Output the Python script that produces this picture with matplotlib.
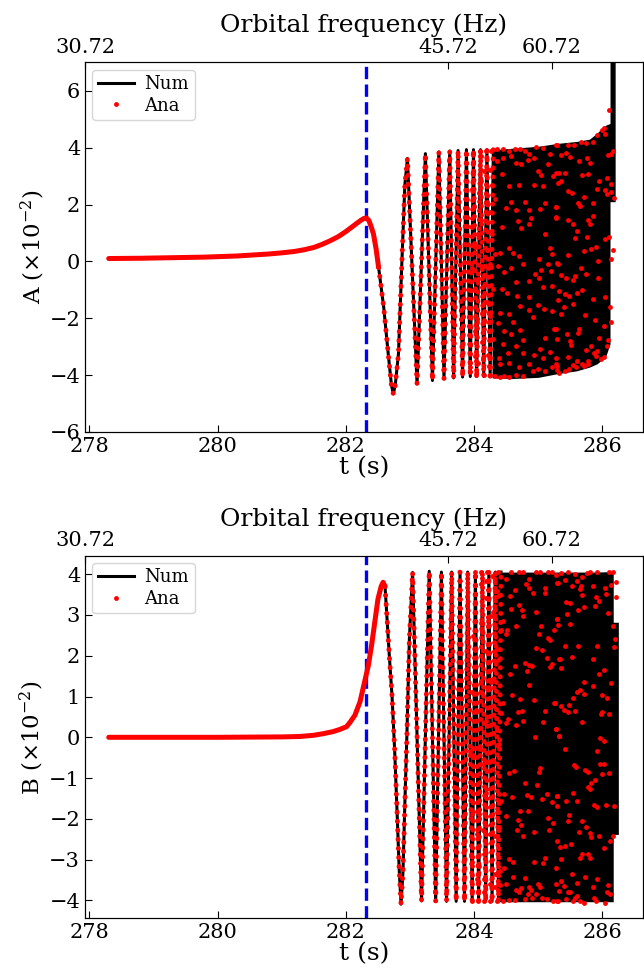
import matplotlib
matplotlib.use("Agg")
import matplotlib.pyplot as plt

plt.rcParams['font.family'] = 'DejaVu Serif'
plt.rcParams['mathtext.fontset'] = 'dejavuserif'

# ---- shared axis info ----
t_lim = (277.93, 286.63)
t_ticks = [278, 280, 282, 284, 286]
t_merger = 282.31
freq_labels = ['30.72', '45.72', '60.72']
freq_tick_t = [277.93, 283.60, 285.21]

# ---- panel A ----
a_smooth_t = [278.3, 278.8, 279.3, 279.8, 280.3, 280.8, 281.0, 281.2, 281.35, 281.5, 281.62, 281.75,
              281.88, 282.0, 282.1, 282.17, 282.23, 282.28, 282.32, 282.36, 282.40, 282.43, 282.47, 282.51]
a_smooth_v = [0.10, 0.11, 0.13, 0.15, 0.19, 0.26, 0.30, 0.35, 0.41, 0.49, 0.59, 0.72,
              0.87, 1.05, 1.22, 1.34, 1.44, 1.51, 1.53, 1.43, 1.18, 0.96, 0.45, -0.21]
a_osc_t = [282.51, 282.59, 282.66, 282.71, 282.74, 282.77, 282.82, 282.87, 282.92, 282.96, 283.11, 283.24,
           283.35, 283.45, 283.53, 283.62, 283.68, 283.75, 283.82, 283.88, 283.94, 283.99,
           284.04, 284.10, 284.15, 284.20, 284.25, 284.30]
a_osc_v = [-0.21, -1.62, -3.25, -4.35, -4.66, -4.35, -3.25, -0.21, 2.71, 3.62, -4.31, 3.79,
           -4.19, 3.85, -4.13, 3.88, -4.10, 3.90, -4.07, 3.93, -4.05, 3.93,
           -4.05, 3.93, -4.05, 3.93, -4.05, 3.93]
a_env_t = [284.28, 284.6, 285.0, 285.3, 285.6, 285.8, 285.92, 286.0, 286.06, 286.12, 286.12, 286.2]
a_env_hi = [3.93, 3.98, 4.05, 4.15, 4.22, 4.30, 4.52, 4.70, 4.80, 4.85, 8.0, 8.0]
a_env_lo = [-4.10, -4.12, -4.08, -3.95, -3.85, -3.72, -3.60, -3.45, -3.30, -2.90, 2.1, 2.1]
a_dot_t = [
    283.98, 284.09, 284.18, 284.27, 284.36, 284.45, 284.55, 284.63, 284.71, 284.79, 284.86, 284.97, 285.07, 285.18, 285.29,
    283.98, 284.11, 284.35, 284.45, 284.58, 284.66, 284.73, 284.84, 284.94, 285.15, 285.28,
    283.99, 284.16, 284.25, 284.44, 284.99, 285.05, 285.23,
    284.10, 284.28, 284.55, 284.70, 284.94, 285.07, 285.31,
    283.97, 284.08, 284.33, 284.20, 284.58, 284.79, 285.10,
    284.00, 284.25, 284.49, 284.65, 284.86, 285.03, 285.27,
    284.11, 284.44, 284.68, 284.73, 284.85, 284.89, 285.28, 283.97, 284.06, 284.28, 285.11,
    284.01, 284.20, 284.33, 284.41, 284.54, 284.60, 284.70, 285.01, 285.18, 285.22, 285.31,
    283.96, 284.11, 284.24, 284.37, 284.47, 284.58, 284.76, 284.95, 285.05, 285.15, 285.20,
    284.06, 284.15, 284.65, 284.86, 285.01, 285.08, 285.22, 285.32, 284.02, 284.29, 284.44, 284.51, 284.67, 284.86,
    283.94, 284.20, 284.72, 284.85, 284.99, 285.09,
    284.12, 284.24, 284.41, 284.54, 284.92, 285.22, 284.05, 284.15, 284.37, 284.60,
    284.02, 284.47, 284.71, 285.25, 284.29, 284.58, 284.76, 285.11,
    283.94, 284.13, 284.45, 284.66, 285.02, 285.18,
    284.02, 284.14, 284.22, 284.39, 284.53, 284.76, 284.93, 285.08, 285.27,
    283.94, 284.06, 284.23, 284.40, 284.54, 284.70, 284.85, 284.99, 285.22,
    284.03, 284.15, 284.25, 284.32, 284.40, 284.47, 284.55, 284.66, 284.76, 284.92, 285.11, 285.29,
    285.28, 285.35, 285.46, 285.56, 285.67, 285.74, 285.86, 285.92, 285.99, 286.03, 286.04, 286.11,
    285.43, 285.50, 285.64, 285.76, 285.81, 286.09, 286.16, 286.14,
    285.33, 285.41, 285.36, 285.69, 285.78, 285.95, 286.08, 286.13,
    285.46, 285.52, 285.91, 286.04, 286.08, 286.14, 286.18,
    285.71, 285.62, 285.65, 285.86, 285.28,
    285.46, 285.55, 285.78, 285.81, 285.86, 285.28,
    285.60, 285.57, 285.76, 286.04, 286.11,
    285.47, 285.72, 285.82, 285.90, 285.94, 286.17, 286.14,
    285.30, 285.67, 285.36, 285.43, 285.57, 285.74, 285.55, 285.94,
    285.68, 285.60, 285.42, 285.48, 285.85, 286.04, 285.31, 285.54,
    285.40, 285.36, 286.12, 285.73, 285.88, 286.13, 286.03,
    285.28, 285.64, 285.62, 285.45, 285.50, 285.29, 285.51, 285.95, 286.09, 286.07,
    285.82, 285.74, 285.87, 285.92, 285.90, 286.02, 285.98, 285.46, 285.28,
    285.61, 285.68, 285.77, 285.78, 285.54, 285.59, 285.30, 285.41, 285.33, 285.48, 285.71,
]
a_dot_v = [
    3.82, 3.90, 3.90, 3.90, 3.94, 3.97, 3.90, 3.94, 3.97, 3.88, 3.76, 4.02, 3.99, 3.76, 4.09,
    3.47, 3.70, 3.53, 3.64, 3.70, 3.47, 3.41, 3.58, 3.64, 3.41, 3.12,
    3.09, 3.17, 3.20, 3.06, 3.17, 3.03, 3.00,
    2.82, 2.68, 2.65, 2.68, 2.67, 2.65, 2.77,
    2.53, 2.41, 2.18, 2.10, 2.10, 2.09, 2.06,
    1.95, 1.75, 1.89, 1.82, 1.81, 1.83, 1.91,
    1.46, 1.21, 1.42, 1.19, 1.30, 1.51, 1.54, 1.23, 0.98, 0.98, 0.98,
    0.51, 0.40, 0.27, 0.29, 0.48, 0.30, 0.18, 0.09, 0.46, 0.25, -0.08,
    -0.22, -0.18, -0.10, -0.18, -0.36, -0.25, -0.10, -0.45, -0.31, -0.10, -0.34,
    -0.63, -0.49, -0.73, -0.70, -0.57, -0.90, -0.86, -1.04, -1.01, -0.96, -0.98, -1.10, -1.21, -1.25,
    -1.65, -1.42, -1.56, -1.70, -1.54, -1.68,
    -1.83, -1.91, -1.82, -1.86, -1.97, -1.76, -2.14, -2.14, -2.16, -2.15,
    -2.44, -2.46, -2.42, -2.37, -2.72, -2.56, -2.75, -2.68,
    -2.89, -2.83, -2.91, -2.99, -3.08, -3.18,
    -3.32, -3.40, -3.28, -3.41, -3.22, -3.22, -3.28, -3.40, -3.61,
    -3.70, -3.59, -3.67, -3.61, -3.56, -3.73, -3.61, -3.79, -3.73,
    -3.99, -3.99, -3.99, -4.04, -4.06, -4.02, -4.06, -4.01, -4.03, -3.87, -3.85, -3.82,
    4.11, 3.74, 4.11, 4.11, 4.21, 4.17, 4.21, 4.44, 4.61, 4.68, 4.49, 5.31,
    3.82, 3.67, 3.53, 3.62, 3.47, 3.74, 3.90, 3.76,
    3.12, 3.12, 2.83, 3.04, 3.08, 2.83, 2.92, 2.71,
    2.48, 2.42, 2.53, 2.50, 2.36, 2.45, 2.24,
    2.27, 2.07, 1.95, 2.04, 1.91,
    1.46, 1.30, 1.46, 1.33, 1.60, 1.56,
    1.07, 0.81, 0.86, 0.80, 0.84,
    0.23, 0.37, 0.43, 0.51, 0.02, 0.39, 0.10,
    -0.07, -0.22, -0.47, -0.57, -0.51, -0.45, -0.66, -0.60,
    -1.00, -1.12, -1.15, -1.23, -1.33, -1.24, -1.36, -1.50,
    -1.62, -1.85, -1.60, -1.89, -2.05, -2.15, -2.26,
    -2.38, -2.38, -2.53, -2.55, -2.79, -2.73, -2.93, -2.70, -2.76, -2.99,
    -2.96, -3.12, -3.23, -3.16, -3.32, -3.35, -3.43, -3.35, -3.40,
    -3.52, -3.61, -3.61, -3.49, -3.63, -3.73, -3.67, -3.84, -3.94, -3.78, -3.67,
]

# ---- panel B ----
b_smooth_t = [278.3, 279.0, 280.0, 281.0, 281.28, 281.5, 281.65, 281.8, 281.9, 282.01, 282.07, 282.14,
              282.22, 282.28, 282.35, 282.40, 282.45, 282.50, 282.55, 282.58, 282.61]
b_smooth_v = [0.0, 0.0, 0.0, 0.01, 0.02, 0.05, 0.09, 0.14, 0.19, 0.26, 0.38, 0.54,
              0.87, 1.28, 1.76, 2.25, 2.82, 3.39, 3.70, 3.80, 3.70]
b_osc_t = [282.61, 282.64, 282.68, 282.72, 282.76, 282.80, 282.83, 282.86, 282.89, 282.92,
           282.95, 282.99, 283.04, 283.18,
           283.30, 283.40, 283.49, 283.57, 283.65, 283.72, 283.78, 283.85, 283.90, 283.97,
           284.02, 284.07, 284.13, 284.18, 284.23, 284.28, 284.33, 284.38, 284.42]
b_osc_v = [3.70, 2.95, 1.93, 1.00, -0.30, -1.90, -3.20, -4.09, -3.30, -1.60,
           -0.02, 2.41, 4.04, -4.01,
           4.07, -4.02, 4.05, -4.02, 4.05, -4.02, 4.05, -4.02, 4.05, -4.02,
           4.05, -4.02, 4.05, -4.02, 4.05, -4.02, 4.05, -4.02, 4.05]
b_env_t = [284.35, 284.8, 285.3, 285.8, 286.17, 286.17, 286.25]
b_env_hi = [4.05, 4.05, 4.05, 4.05, 4.06, 2.82, 2.82]
b_env_lo = [-4.03, -4.03, -4.03, -4.03, -4.03, -2.38, -2.38]
b_dot_t = [
    284.01, 284.11, 284.20, 284.28, 284.37, 284.49, 284.58, 284.70, 284.76, 284.85, 284.97, 285.03, 285.15, 285.22, 285.29,
    284.11, 284.19, 284.36, 284.37, 284.01, 284.19, 284.02, 284.63, 284.81, 284.86, 284.92, 285.10, 285.10, 284.56,
    284.70, 284.75, 284.58, 284.29, 284.27, 284.76, 284.96, 284.45, 284.22, 284.10, 285.29, 284.65,
    285.05, 284.42, 284.51, 284.50, 284.12, 285.01, 285.25, 283.99, 285.15, 285.19, 284.97, 285.06, 284.02, 284.18, 284.36, 285.13, 285.32, 284.38,
    285.21, 285.18, 284.63, 284.80, 284.86, 284.91, 284.82, 284.56, 284.30, 284.27, 284.22, 284.10, 284.85, 284.13, 283.97, 284.59, 284.72, 284.93, 285.25,
    284.45, 284.03, 284.42, 284.68, 284.75, 285.11, 284.53, 284.49, 284.66, 284.77, 285.08, 284.18, 284.35, 285.27, 285.32, 284.95,
    284.39, 284.09, 283.94, 283.98, 284.14, 284.23, 284.29, 284.03, 284.55, 284.62, 285.01, 285.03, 284.79, 284.98,
    284.18, 284.46, 284.82, 284.89, 284.59, 285.13, 285.29, 284.42, 285.06, 285.21, 283.97, 284.08, 284.35, 284.49, 284.72, 284.84, 285.15,
    284.68, 284.73, 285.23, 284.14, 284.39, 284.67, 284.04, 284.24, 284.32, 284.77, 284.93, 285.17,
    285.29, 284.16, 283.95, 283.97, 284.55, 284.61, 284.94, 285.07, 285.11, 284.08, 284.41, 284.47, 284.33, 284.61, 285.27,
    284.04, 284.15, 284.79, 284.24, 284.41, 284.50, 284.99, 285.03, 285.27, 284.32, 284.66, 284.70, 284.85, 284.89, 284.73,
    283.97, 284.15, 284.84, 284.91, 284.96, 285.06, 284.79, 283.96, 284.06, 284.16, 284.25, 284.35, 284.45, 284.55, 284.63, 285.13, 285.23, 285.31,
    285.28, 285.36, 285.47, 285.57, 285.68, 285.76, 285.81, 285.92, 286.11, 286.16,
    285.31, 285.42, 285.52, 285.60, 285.67, 285.85, 286.04, 286.14, 286.21, 285.65,
    285.69, 285.90, 286.05, 286.21, 285.43, 285.50, 285.88, 285.95, 285.72, 285.62, 286.09, 285.45, 285.29, 285.50, 285.31, 286.17,
    286.19, 286.18, 285.41, 285.62, 285.91, 285.34, 285.52, 285.86, 285.36, 286.02, 285.95,
    285.72, 285.85, 286.13, 285.65, 285.60, 285.71, 285.55, 285.99, 286.08, 285.26, 285.36, 285.48, 285.40, 285.47, 285.57, 286.00, 285.98, 286.11, 285.68,
    285.28, 285.33, 285.97, 286.02, 285.42, 285.91, 285.97, 286.02, 285.56, 285.59, 285.73, 285.78, 286.00, 286.11, 285.88, 285.83, 285.77, 285.80,
    285.29, 285.54, 285.43, 285.61, 285.30, 285.87, 285.91, 286.05, 286.18, 285.48, 285.46, 285.68, 285.75, 285.64, 285.81, 285.83, 285.95, 286.17, 286.12,
    285.34, 285.41, 285.51, 286.03, 285.36, 285.65, 285.77, 285.80, 285.69, 285.73, 285.52, 285.92, 285.36, 285.85, 286.09, 285.40, 285.61,
    285.33, 285.46, 285.50, 285.57, 285.61, 286.07, 286.12,
    285.29, 285.43, 285.54, 285.65, 285.71, 285.87, 285.90, 286.04,
]
b_dot_v = [
    4.04, 4.04, 4.04, 3.96, 4.04, 3.89, 4.04, 4.06, 4.06, 3.88, 4.06, 4.06, 4.06, 4.04, 3.78,
    3.76, 3.84, 3.59, 3.46, 3.51, 3.41, 3.31, 3.62, 3.76, 3.65, 3.54, 3.65, 3.53, 3.46,
    3.25, 3.11, 3.15, 3.06, 2.97, 2.98, 3.06, 2.85, 2.84, 2.80, 2.90, 2.72,
    2.72, 2.62, 2.64, 2.53, 2.60, 2.54, 2.64, 2.48, 2.43, 2.39, 2.20, 2.13, 2.15, 2.12, 2.17, 1.94, 1.93, 1.90,
    1.80, 1.72, 1.75, 1.83, 1.78, 1.75, 1.62, 1.56, 1.42, 1.36, 1.24, 1.37, 1.28, 1.08, 1.11, 1.03, 0.93, 0.91, 0.85,
    0.85, 0.66, 0.60, 0.63, 0.64, 0.64, 0.45, 0.36, 0.30, 0.40, 0.37, 0.41, 0.18, 0.20, 0.04, 0.00,
    -0.16, -0.28, -0.33, -0.43, -0.65, -0.61, -0.57, -0.93, -0.88, -0.82, -0.86, -0.76, -1.12, -1.18,
    -1.37, -1.39, -1.41, -1.47, -1.47, -1.39, -1.44, -1.57, -1.52, -1.59, -1.88, -1.88, -1.83, -1.92, -1.81, -1.80, -1.98,
    -2.03, -2.14, -2.11, -2.26, -2.20, -2.26, -2.38, -2.37, -2.41, -2.41, -2.32, -2.26,
    -2.54, -2.87, -2.91, -3.05, -2.99, -3.05, -3.05, -3.07, -2.95, -3.15, -3.28, -3.21, -3.36, -3.42, -3.21,
    -3.48, -3.48, -3.46, -3.59, -3.63, -3.59, -3.60, -3.67, -3.60, -3.68, -3.75, -3.78, -3.68, -3.75, -3.70,
    -3.76, -3.80, -3.85, -3.93, -3.85, -3.93, -3.97, -4.02, -4.01, -4.01, -4.02, -4.01, -4.01, -3.99, -3.99, -3.97, -4.01, -4.01,
    3.98, 4.02, 4.06, 4.00, 3.94, 4.02, 4.06, 4.04, 4.06, 4.06,
    3.78, 3.86, 3.72, 3.84, 3.72, 3.70, 3.65, 3.73, 3.81, 3.63,
    3.50, 3.43, 3.51, 3.43, 3.31, 3.29, 3.23, 3.33, 3.19, 3.13, 3.05, 3.02, 2.90, 2.78, 2.76, 2.72,
    2.40, 2.21, 2.24, 2.24, 2.23, 1.93, 1.97, 1.91, 1.71, 1.66, 1.54,
    1.36, 1.26, 1.33, 1.15, 1.10, 1.05, 0.97, 1.03, 0.97, 0.85, 0.76, 0.79, 0.67, 0.61, 0.64, 0.63, 0.57, 0.57, 0.38,
    0.20, 0.03, -0.02, -0.09, -0.28, -0.33, -0.65, -0.65, -0.69, -0.74, -0.80, -0.86, -0.90, -0.88, -1.04, -1.12, -1.23, -1.26,
    -1.43, -1.37, -1.57, -1.57, -1.69, -1.65, -1.72, -1.67, -1.68, -1.91, -2.04, -2.06, -2.20, -2.32, -2.34, -2.45, -2.42, -2.42, -2.55,
    -2.69, -2.67, -2.61, -2.71, -2.99, -2.95, -2.85, -2.95, -2.85, -3.42, -3.34, -3.48, -3.52, -3.67, -3.62, -3.64, -3.56,
    -3.76, -3.80, -3.78, -3.93, -3.89, -3.78, -3.85,
    -4.02, -3.97, -4.01, -4.01, -4.05, -3.94, -4.02, -4.05,
]

panels = [
    dict(st=a_smooth_t, sv=a_smooth_v, ot=a_osc_t, ov=a_osc_v, et=a_env_t, eh=a_env_hi, el=a_env_lo,
         dt=a_dot_t, dv=a_dot_v, ylabel=r'A ($\times10^{-2}$)', ylim=(-6, 7), yticks=[-6, -4, -2, 0, 2, 4, 6],
         rect=[0.132, 0.557, 0.866, 0.379]),
    dict(st=b_smooth_t, sv=b_smooth_v, ot=b_osc_t, ov=b_osc_v, et=b_env_t, eh=b_env_hi, el=b_env_lo,
         dt=b_dot_t, dv=b_dot_v, ylabel=r'B ($\times10^{-2}$)', ylim=(-4.44, 4.45), yticks=[-4, -3, -2, -1, 0, 1, 2, 3, 4],
         rect=[0.132, 0.058, 0.866, 0.372]),
]

fig = plt.figure(figsize=(6.44, 9.75), dpi=100)

for p in panels:
    ax = fig.add_axes(p['rect'])
    ax.axvline(t_merger, color='blue', lw=2.4, ls='--', zorder=1)
    # numerical waveform
    ax.plot(p['st'] + p['ot'], p['sv'] + p['ov'], color='black', lw=2.2,
            solid_joinstyle='round', zorder=2, label='Num')
    ax.fill_between(p['et'], p['el'], p['eh'], color='black', lw=0, zorder=2)
    # analytic samples
    ax.plot(p['st'], p['sv'], color='red', lw=3.6, solid_capstyle='round',
            solid_joinstyle='round', zorder=3)
    ax.plot(p['ot'], p['ov'], color='red', lw=3.6, ls=(0, (0.01, 1.8)),
            dash_capstyle='round', zorder=3)
    ax.plot(p['dt'], p['dv'], 'o', color='red', ms=3.5, mec='none', zorder=3, label='Ana')

    ax.set_xlim(t_lim)
    ax.set_ylim(p['ylim'])
    ax.set_xticks(t_ticks)
    ax.set_yticks(p['yticks'])
    ax.tick_params(direction='in', labelsize=15, length=5)
    ax.set_xlabel('t (s)', fontsize=18, labelpad=0)
    ax.set_ylabel(p['ylabel'], fontsize=16.5, labelpad=2)
    ax.legend(loc='upper left', fontsize=13, handlelength=2.0,
              borderaxespad=0.4, handletextpad=0.6, borderpad=0.3, labelspacing=0.2)

    top = ax.twiny()
    top.set_xlim(t_lim)
    top.set_xticks(freq_tick_t)
    top.set_xticklabels(freq_labels)
    top.tick_params(direction='in', labelsize=15, length=5, pad=4)
    top.set_xlabel('Orbital frequency (Hz)', fontsize=18, labelpad=4)

fig.savefig('out.png', dpi=100)
